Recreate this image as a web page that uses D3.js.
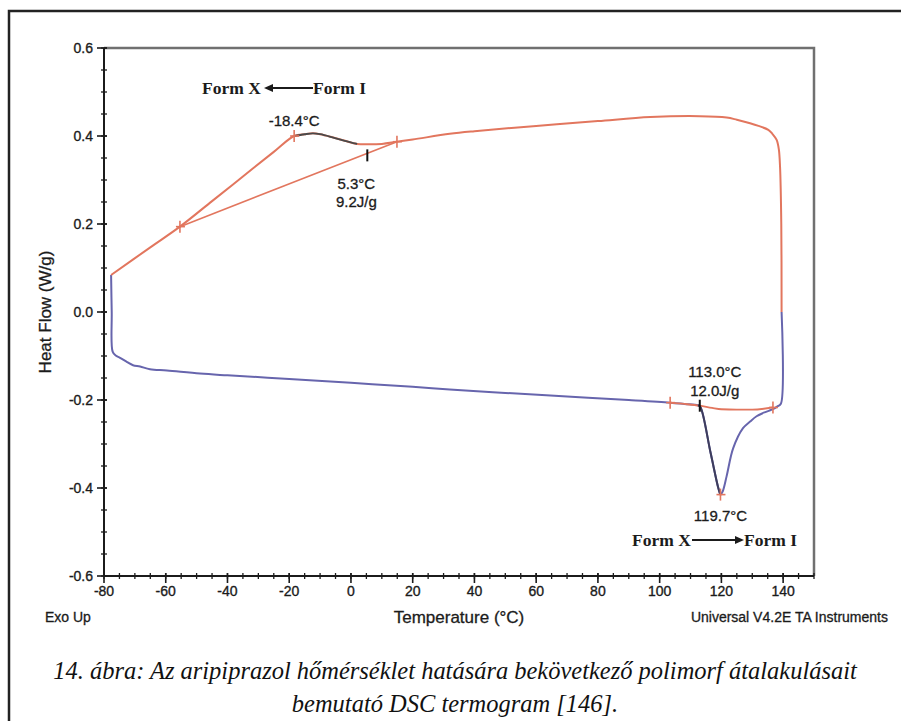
<!DOCTYPE html>
<html>
<head>
<meta charset="utf-8">
<script src="https://cdn.jsdelivr.net/npm/d3@7"></script>
<style>
  html, body { margin: 0; padding: 0; background: #fff; }
  svg { display: block; }
</style>
</head>
<body>
<script>
// ---------------- data ----------------
// Heating run (blue, lower curve): temperature (°C) and heat flow (W/g)
const heatT  = [-77.7, -77.5, -77.2, -76.2, -74.8, -72.5, -70.6, -68.3, -65.1, -59.6, -48.9, -40, -20, 0, 20, 32, 50, 70, 90, 103.4, 108, 112.4, 113.2, 116.5, 119.0, 119.7, 120.4, 121.7, 123.8, 127, 129.3, 131.4, 134, 136.3, 138.3, 139.3, 139.5];
const heatHF = [0.084, 0.0, -0.09, -0.099, -0.104, -0.114, -0.121, -0.124, -0.130, -0.133, -0.140, -0.144, -0.152, -0.161, -0.170, -0.176, -0.184, -0.192, -0.200, -0.206, -0.209, -0.212, -0.216, -0.320, -0.400, -0.415, -0.408, -0.373, -0.310, -0.264, -0.249, -0.237, -0.228, -0.222, -0.214, -0.208, 0.0];
// Cooling run (red, upper curve)
const coolT  = [139.5, 139.4, 139.0, 138.6, 137.9, 136.5, 135.2, 132, 129.3, 125, 121.7, 113, 97, 80, 60, 40, 32, 20, 14.9, 10, 5.2, 2, -2, -6, -10, -12.3, -15, -18.4, -25, -35, -45, -55.4, -65, -77.7];
const coolHF = [0.0, 0.2, 0.33, 0.37, 0.391, 0.405, 0.414, 0.423, 0.429, 0.437, 0.442, 0.445, 0.443, 0.434, 0.423, 0.411, 0.405, 0.392, 0.387, 0.382, 0.381, 0.382, 0.389, 0.397, 0.404, 0.406, 0.404, 0.400, 0.364, 0.308, 0.252, 0.194, 0.147, 0.084];
// Integration baselines
const exoBaseT  = [-55.4, 14.9];
const exoBaseHF = [0.194, 0.387];
const endoBaseT  = [103.4, 108, 113, 117, 120, 125, 130, 136.7];
const endoBaseHF = [-0.206, -0.209, -0.213, -0.218, -0.221, -0.222, -0.222, -0.217];
// Analysis cursors (red) and onset ticks (black)
const markerT  = [-55.4, -18.4, 14.9, 103.4, 119.7, 136.7];
const markerHF = [0.194, 0.400, 0.387, -0.206, -0.415, -0.217];
const onsetT  = [5.3, 113.0];
const onsetHF = [0.356, -0.213];
// Highlighted peak ranges (drawn darker)
const exoPeakRange  = [-18.4, 2];
const endoPeakRange = [112.4, 119.7];
// Axes
const xTicks = [-80, -60, -40, -20, 0, 20, 40, 60, 80, 100, 120, 140];
const xTickLabels = ["-80", "-60", "-40", "-20", "0", "20", "40", "60", "80", "100", "120", "140"];
const xMinor = d3.range(-80, 151, 5);
const yTicks = [0.6, 0.4, 0.2, 0.0, -0.2, -0.4, -0.6];
const yTickLabels = ["0.6", "0.4", "0.2", "0.0", "-0.2", "-0.4", "-0.6"];
const yMinor = d3.range(-12, 13).map(i => i * 0.05);
// Texts
const peakLabels = ["-18.4°C", "119.7°C"];
const exoOnsetLabels = ["5.3°C", "9.2J/g"];
const endoOnsetLabels = ["113.0°C", "12.0J/g"];
const formLabels = ["Form X", "Form I"];
const xTitle = "Temperature (°C)";
const yTitle = "Heat Flow (W/g)";
const cornerLeft = "Exo Up";
const cornerRight = "Universal V4.2E TA Instruments";
const captionLines = [
  "14. ábra: Az aripiprazol hőmérséklet hatására bekövetkező polimorf átalakulásait",
  "bemutató DSC termogram [146]."
];

// ---------------- drawing ----------------
const W = 901, H = 721;
const svg = d3.select("body").append("svg").attr("width", W).attr("height", H);
svg.append("rect").attr("width", W).attr("height", H).attr("fill", "#fff");

const x = d3.scaleLinear().domain([-80, 150]).range([104, 814]);
const y = d3.scaleLinear().domain([-0.6, 0.6]).range([576, 48]);

const SANS = "Arial, 'Liberation Sans', Helvetica, sans-serif";
const SERIF = "'Times New Roman', 'Liberation Serif', serif";
const INK = "#1b1b1b";
const RED = "#e2765e";
const BLUE = "#6765ad";
const DARK = "#3e3d5c";

// outer frame of the figure
svg.append("path").attr("d", `M9,${H} V11 H${W}`).attr("fill", "none")
  .attr("stroke", "#222").attr("stroke-width", 2.5);

// plot frame (top/right grey)
svg.append("path").attr("d", `M${x(-80)},${y(0.6)} H${x(150)} V${y(-0.6)}`)
  .attr("fill", "none").attr("stroke", "#707070").attr("stroke-width", 2.5);

// axes
const gx = svg.append("g");
gx.append("line").attr("x1", x(-80)).attr("x2", x(150)).attr("y1", y(-0.6)).attr("y2", y(-0.6))
  .attr("stroke", INK).attr("stroke-width", 2);
gx.selectAll("line.minor").data(xMinor).join("line").attr("class", "minor")
  .attr("x1", d => x(d)).attr("x2", d => x(d)).attr("y1", y(-0.6) - 3).attr("y2", y(-0.6) + 3)
  .attr("stroke", INK).attr("stroke-width", 1.3);
gx.selectAll("line.major").data(xTicks).join("line").attr("class", "major")
  .attr("x1", d => x(d)).attr("x2", d => x(d)).attr("y1", y(-0.6) - 3).attr("y2", y(-0.6) + 7)
  .attr("stroke", INK).attr("stroke-width", 1.6);
gx.selectAll("text").data(xTicks).join("text")
  .attr("x", d => x(d)).attr("y", y(-0.6) + 20)
  .attr("text-anchor", "middle").attr("font-family", SANS).attr("font-size", 14)
  .attr("fill", INK).attr("stroke", INK).attr("stroke-width", 0.35).text((d, i) => xTickLabels[i]);

const gy = svg.append("g");
gy.append("line").attr("x1", x(-80)).attr("x2", x(-80)).attr("y1", y(0.6)).attr("y2", y(-0.6))
  .attr("stroke", INK).attr("stroke-width", 2);
gy.selectAll("line.minor").data(yMinor).join("line").attr("class", "minor")
  .attr("x1", x(-80) - 3).attr("x2", x(-80) + 3).attr("y1", d => y(d)).attr("y2", d => y(d))
  .attr("stroke", INK).attr("stroke-width", 1.3);
gy.selectAll("line.major").data(yTicks).join("line").attr("class", "major")
  .attr("x1", x(-80) - 7).attr("x2", x(-80) + 3).attr("y1", d => y(d)).attr("y2", d => y(d))
  .attr("stroke", INK).attr("stroke-width", 1.6);
gy.selectAll("text").data(yTicks).join("text")
  .attr("x", x(-80) - 11).attr("y", d => y(d) + 5)
  .attr("text-anchor", "end").attr("font-family", SANS).attr("font-size", 14)
  .attr("fill", INK).attr("stroke", INK).attr("stroke-width", 0.35).text((d, i) => yTickLabels[i]);

// axis titles and corner notes
const notes = svg.append("g").attr("font-family", SANS).attr("fill", INK)
  .attr("stroke", INK).attr("stroke-width", 0.3);
notes.append("text").attr("x", (x(-80) + x(150)) / 2).attr("y", 623)
  .attr("text-anchor", "middle").attr("font-size", 17).text(xTitle);
notes.append("text").attr("transform", `translate(51,${(y(0.6) + y(-0.6)) / 2}) rotate(-90)`)
  .attr("text-anchor", "middle").attr("font-size", 17).text(yTitle);
notes.append("text").attr("x", 45).attr("y", 622).attr("font-size", 14).text(cornerLeft);
notes.append("text").attr("x", 888).attr("y", 622).attr("text-anchor", "end")
  .attr("font-size", 14).text(cornerRight);

// curves
const smooth = d3.line().curve(d3.curveCatmullRom.alpha(0.5)).x(d => x(d[0])).y(d => y(d[1]));
const line = d3.line().x(d => x(d[0])).y(d => y(d[1]));
const heat = heatT.map((t, i) => [t, heatHF[i]]);
const cool = coolT.map((t, i) => [t, coolHF[i]]);
const plot = svg.append("g");

plot.append("path").datum(heat).attr("d", smooth).attr("fill", "none")
  .attr("stroke", BLUE).attr("stroke-width", 2).attr("stroke-linejoin", "round");
plot.append("path").datum(cool).attr("d", smooth).attr("fill", "none")
  .attr("stroke", RED).attr("stroke-width", 2).attr("stroke-linejoin", "round");

// baselines
plot.append("path").datum(exoBaseT.map((t, i) => [t, exoBaseHF[i]])).attr("d", line)
  .attr("fill", "none").attr("stroke", RED).attr("stroke-width", 1.6);
plot.append("path").datum(endoBaseT.map((t, i) => [t, endoBaseHF[i]])).attr("d", d3.line().curve(d3.curveMonotoneX).x(d => x(d[0])).y(d => y(d[1])))
  .attr("fill", "none").attr("stroke", RED).attr("stroke-width", 1.8);

// darker peak segments
plot.append("path").datum(cool.filter(d => d[0] >= exoPeakRange[0] && d[0] <= exoPeakRange[1]))
  .attr("d", smooth).attr("fill", "none").attr("stroke", "#4a4a4a").attr("stroke-width", 1.8);
plot.append("path").datum(heat.filter(d => d[0] >= endoPeakRange[0] && d[0] <= endoPeakRange[1]))
  .attr("d", smooth).attr("fill", "none").attr("stroke", DARK).attr("stroke-width", 2);

// onset ticks
plot.selectAll("line.onset").data(onsetT).join("line").attr("class", "onset")
  .attr("x1", d => x(d)).attr("x2", d => x(d))
  .attr("y1", (d, i) => y(onsetHF[i]) - 6).attr("y2", (d, i) => y(onsetHF[i]) + 6)
  .attr("stroke", "#111").attr("stroke-width", 2);

// red cursors
const mk = plot.selectAll("g.mk").data(markerT).join("g").attr("class", "mk")
  .attr("transform", (d, i) => `translate(${x(d)},${y(markerHF[i])})`);
mk.append("line").attr("x1", 0).attr("x2", 0).attr("y1", -6).attr("y2", 6)
  .attr("stroke", RED).attr("stroke-width", 1.6);
mk.append("line").attr("x1", -4).attr("x2", 5).attr("y1", 0).attr("y2", 0)
  .attr("stroke", RED).attr("stroke-width", 1.6);

// annotations
const ann = svg.append("g").attr("font-family", SANS).attr("font-size", 15).attr("fill", INK)
  .attr("stroke", INK).attr("stroke-width", 0.3);
ann.append("text").attr("x", x(-18.4)).attr("y", y(0.40) - 10).attr("text-anchor", "middle").text(peakLabels[0]);
ann.append("text").attr("x", x(119.7)).attr("y", y(-0.415) + 26).attr("text-anchor", "middle").text(peakLabels[1]);
exoOnsetLabels.forEach((s, i) => {
  ann.append("text").attr("x", x(onsetT[0]) - 11).attr("y", y(onsetHF[0]) + 34 + i * 18)
    .attr("text-anchor", "middle").text(s);
});
endoOnsetLabels.forEach((s, i) => {
  ann.append("text").attr("x", x(onsetT[1]) + 15).attr("y", y(onsetHF[1]) - 29 + i * 19)
    .attr("text-anchor", "middle").text(s);
});

// Form arrows
const form = svg.append("g").attr("font-family", SERIF).attr("font-weight", "bold")
  .attr("font-size", 17.5).attr("fill", INK);
function arrow(x1, x2, yy) { // from x1 to head at x2
  const dir = Math.sign(x2 - x1);
  form.append("line").attr("x1", x1).attr("x2", x2 - dir * 6).attr("y1", yy).attr("y2", yy)
    .attr("stroke", INK).attr("stroke-width", 2);
  form.append("path").attr("d", `M${x2},${yy} L${x2 - dir * 9},${yy - 4} L${x2 - dir * 9},${yy + 4} Z`)
    .attr("fill", INK);
}
// top: Form X <---- Form I
form.append("text").attr("x", 202).attr("y", 94).text(formLabels[0]);
arrow(313, 264, 88);
form.append("text").attr("x", 313).attr("y", 94).text(formLabels[1]);
// bottom: Form X ----> Form I
form.append("text").attr("x", 632).attr("y", 546).text(formLabels[0]);
arrow(692, 744, 540);
form.append("text").attr("x", 744).attr("y", 546).text(formLabels[1]);

// caption
const cap = svg.append("g").attr("font-family", "'Palatino Linotype', 'Book Antiqua', Palatino, 'Liberation Serif', serif")
  .attr("font-style", "italic").attr("fill", "#111");
const c1 = cap.append("text").attr("x", 455).attr("y", 679).attr("text-anchor", "middle")
  .attr("font-size", 20).text(captionLines[0]);
const w1 = c1.node().getComputedTextLength();
const fs = 20 * 804 / w1;
c1.attr("font-size", fs);
cap.append("text").attr("x", 455).attr("y", 712).attr("text-anchor", "middle")
  .attr("font-size", fs).text(captionLines[1]);
</script>
</body>
</html>
